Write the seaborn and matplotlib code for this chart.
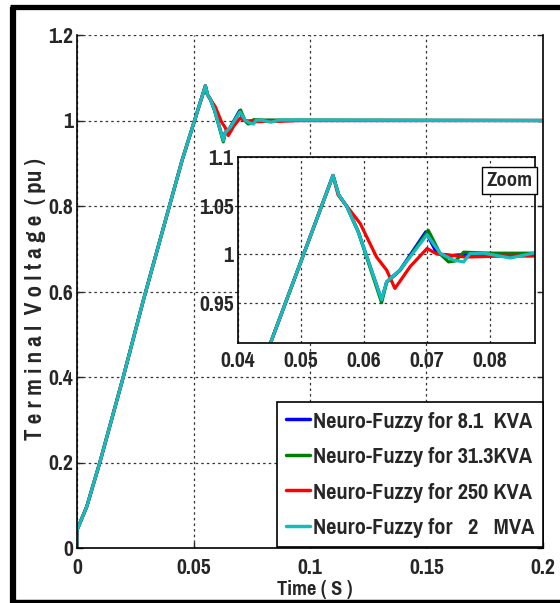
import numpy as np
import pandas as pd
import matplotlib
matplotlib.use("Agg")
import matplotlib.pyplot as plt
from matplotlib.lines import Line2D
from matplotlib.ticker import FuncFormatter
from matplotlib import font_manager as fm
import seaborn as sns

# ---- data ----
t_rise = [0.0, 0.0, 0.0042, 0.0099, 0.0199, 0.0285, 0.0450, 0.0551]
v_rise = [0.0, 0.042, 0.097, 0.202, 0.401, 0.580, 0.905, 1.081]

t_blue = [0.0560, 0.0573, 0.0591, 0.0628, 0.0636, 0.0657, 0.0698, 0.0713, 0.0729, 0.0745, 0.0780, 0.2]
v_blue = [1.061, 1.049, 1.023, 0.953, 0.9715, 0.9835, 1.023, 1.004, 0.9965, 0.999, 1.000, 1.000]

t_green = [0.0560, 0.0573, 0.0591, 0.0628, 0.0636, 0.0657, 0.0702, 0.0721, 0.0734, 0.0745, 0.0758, 0.0800, 0.2]
v_green = [1.061, 1.049, 1.023, 0.950, 0.971, 0.983, 1.0245, 1.000, 0.992, 0.993, 1.002, 1.001, 1.000]

t_red = [0.0559, 0.0594, 0.0620, 0.0636, 0.0649, 0.0657, 0.0673, 0.0700, 0.0716, 0.0731, 0.0760, 0.0820, 0.0868, 0.0950, 0.2]
v_red = [1.061, 1.0316, 0.997, 0.9835, 0.9647, 0.972, 0.987, 1.0058, 1.000, 0.9995, 0.997, 0.998, 0.998, 1.000, 1.000]

t_cyan = [0.0560, 0.0573, 0.0591, 0.0628, 0.0636, 0.0657, 0.0700, 0.0721, 0.0742, 0.0758, 0.0768, 0.0790, 0.0832, 0.0868, 0.2]
v_cyan = [1.061, 1.049, 1.023, 0.953, 0.9715, 0.9835, 1.020, 1.0007, 0.9938, 0.992, 1.0005, 1.001, 0.996, 1.001, 1.000]

series_names = ["Neuro-Fuzzy for 8.1  KVA", "Neuro-Fuzzy for 31.3KVA",
                "Neuro-Fuzzy for 250 KVA", "Neuro-Fuzzy for   2   MVA"]
series_colors = ["#0000FF", "#008000", "#FF0000", "#14BDBD"]

main_xticks = [0, 0.05, 0.1, 0.15, 0.2]
main_yticks = [0, 0.2, 0.4, 0.6, 0.8, 1.0, 1.2]
inset_xticks = [0.04, 0.05, 0.06, 0.07, 0.08]
inset_yticks = [0.95, 1.0, 1.05, 1.1]

# ---- build long-form table ----
tails = [(t_blue, v_blue), (t_green, v_green), (t_red, v_red), (t_cyan, v_cyan)]
frames = []
for name, (tt, vv) in zip(series_names, tails):
    frames.append(pd.DataFrame({"time": t_rise + tt, "voltage": v_rise + vv, "series": name}))
df = pd.concat(frames, ignore_index=True)
palette = dict(zip(series_names, series_colors))

sns.set_style("white")
available = {f.name for f in fm.fontManager.ttflist}
narrow = None
for cand in ["Liberation Sans Narrow", "Pragati Narrow", "PT Sans Narrow",
             "Roboto Condensed", "Archivo Narrow", "Asap Condensed"]:
    if cand in available:
        narrow = cand
        break
fam = [narrow] if narrow else []
plt.rcParams["font.family"] = fam + ["Liberation Sans", "DejaVu Sans"]
plt.rcParams["font.weight"] = "bold"

fig = plt.figure(figsize=(5.6, 6.03), dpi=100)
W, H = 560, 603

def fx(px):
    return px / W

def fy(py):
    return 1 - py / H

grid_kw = dict(color="#333333", linestyle=(0, (2, 2.5)), linewidth=0.9)

# ---- main axes ----
ax = fig.add_axes([fx(77), fy(548), fx(543) - fx(77), fy(35) - fy(548)])
ax.set_facecolor("white")
for name in series_names:
    sub = df[df.series == name]
    sns.lineplot(data=sub, x="time", y="voltage", color=palette[name], sort=False,
                 estimator=None, linewidth=2.3, ax=ax, legend=False)
ax.set_xlim(0, 0.2)
ax.set_ylim(0, 1.2)
ax.set_xticks(main_xticks)
ax.set_yticks(main_yticks)
fmt = FuncFormatter(lambda v, p: "%g" % v)
ax.xaxis.set_major_formatter(fmt)
ax.yaxis.set_major_formatter(fmt)
ax.grid(True, **grid_kw)
ax.tick_params(direction="in", length=4, width=1, labelsize=17, pad=3,
               top=False, right=True, bottom=True, left=True)
ax.tick_params(axis="x", pad=7)
for s in ["left", "bottom", "right"]:
    ax.spines[s].set_color("black")
    ax.spines[s].set_linewidth(1.2)
ax.spines["top"].set_visible(False)
ax.set_xlabel("Time ( S )", fontsize=16, fontweight="bold")
ax.xaxis.set_label_coords(0.511, -0.08)
ax.xaxis.label.set_va("center")
ax.set_ylabel("T e r m i n a l  V o l t a g e  ( pu )", fontsize=18, fontweight="bold")
ax.yaxis.set_label_coords(-0.088, 0.486)
ax.yaxis.label.set_va("center")

handles = [Line2D([0], [0], color=c, linewidth=2.5) for c in series_colors]
leg = ax.legend(handles, series_names, loc="lower right", bbox_to_anchor=(1.0, 0.002),
                borderaxespad=0.0, frameon=True, fancybox=False,
                handlelength=1.0, handletextpad=0.12, labelspacing=0.6, borderpad=0.35,
                prop={"weight": "bold", "size": 17.5})
leg.get_frame().set_edgecolor("black")
leg.get_frame().set_linewidth(1.2)
leg.get_frame().set_alpha(1)

# ---- inset axes ----
ax2 = fig.add_axes([fx(237.7), fy(343), fx(535) - fx(237.7), fy(157) - fy(343)])
ax2.set_facecolor("white")
for name in series_names:
    sub = df[df.series == name]
    sns.lineplot(data=sub, x="time", y="voltage", color=palette[name], sort=False,
                 estimator=None, linewidth=2.3, ax=ax2, legend=False)
ax2.set_xlim(0.04, 0.0871)
ax2.set_ylim(0.9085, 1.1)
ax2.set_xticks(inset_xticks)
ax2.set_yticks(inset_yticks)
ax2.xaxis.set_major_formatter(fmt)
ax2.yaxis.set_major_formatter(fmt)
ax2.grid(True, **grid_kw)
ax2.tick_params(direction="in", length=3, width=1, labelsize=17, pad=3)
ax2.tick_params(axis="x", pad=6)
ax2.set_xlabel("")
ax2.set_ylabel("")
for s in ["left", "bottom", "right", "top"]:
    ax2.spines[s].set_color("black")
    ax2.spines[s].set_linewidth(1.2)
ax2.text(0.993, 0.925, "Zoom", transform=ax2.transAxes, ha="right", va="top",
         fontsize=16, fontweight="bold",
         bbox=dict(boxstyle="square,pad=0.2", fc="white", ec="black", lw=1))

# ---- figure border (left, top, bottom) ----
fig.add_artist(Line2D([fx(13), fx(13)], [fy(6.5), fy(603)], transform=fig.transFigure,
                      color="black", linewidth=4.5, solid_capstyle="butt"))
fig.add_artist(Line2D([fx(10), fx(560)], [fy(6.5), fy(6.5)], transform=fig.transFigure,
                      color="black", linewidth=3.8, solid_capstyle="butt"))
fig.add_artist(Line2D([fx(10), fx(560)], [fy(601.5), fy(601.5)], transform=fig.transFigure,
                      color="black", linewidth=3.2, solid_capstyle="butt"))

fig.savefig("out.png", dpi=100)
